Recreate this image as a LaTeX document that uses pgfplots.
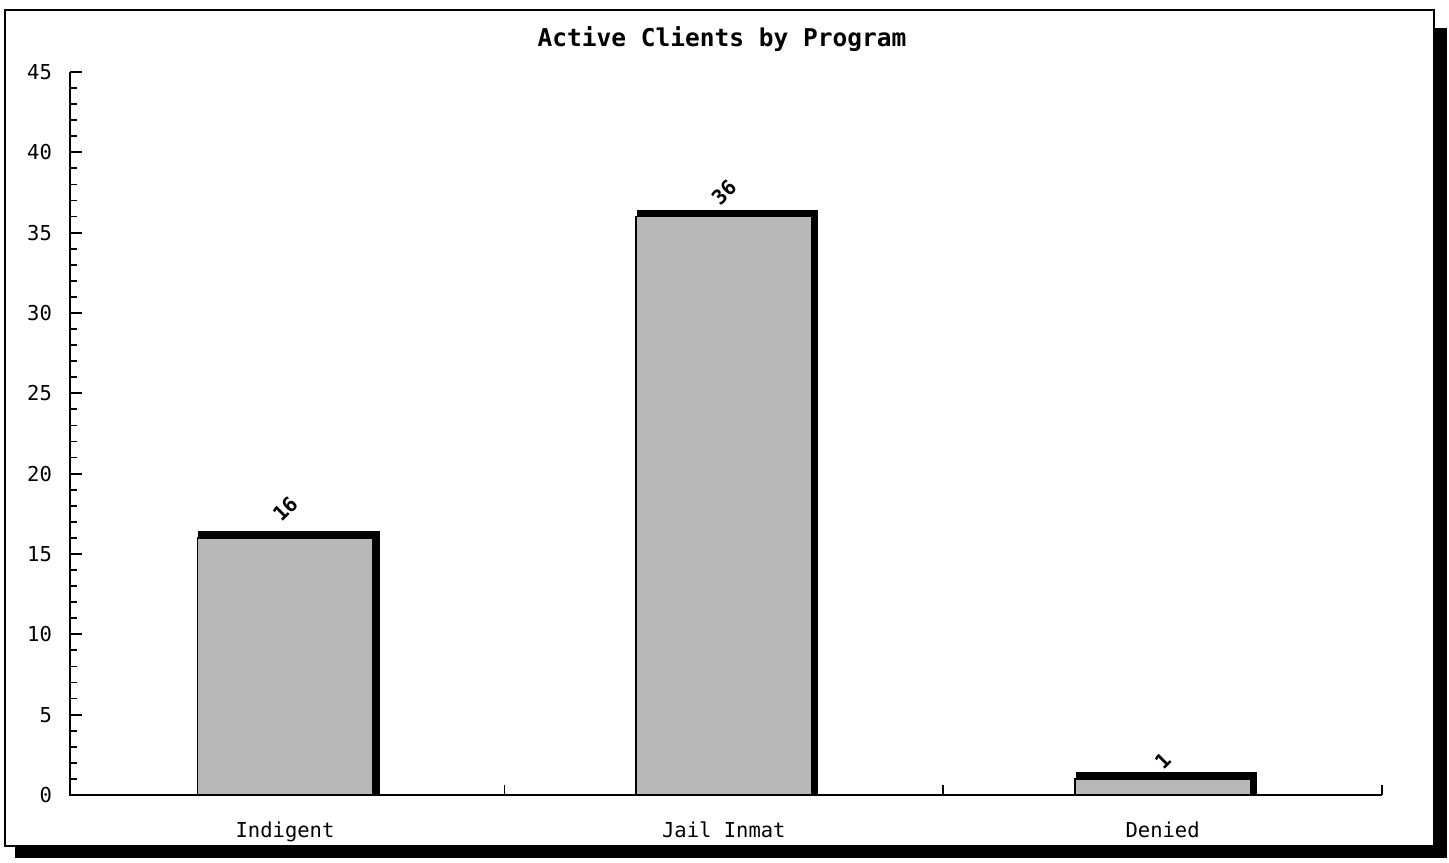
\documentclass[border=0pt]{standalone}
\usepackage{fontspec}
\setmainfont{DejaVu Sans Mono}
\usepackage{pgfplots}
\usepackage{pgfplotstable}
\pgfplotsset{compat=1.18}
\definecolor{barfill}{RGB}{184,184,184}

\pgfplotstableread{
x v off
0 16 14.5
1 36 12
2 1  9
}\datatable

\begin{document}
\begin{tikzpicture}[x=0.5bp,y=0.5bp]
\path[use as bounding box] (0,0) rectangle (1449,862);
% outer frame with shadow
\fill[black] (1434,834) rectangle (1447,4);
\fill[black] (15,16) rectangle (1447,4);
\draw[line width=1.1bp, fill=white] (5,852) rectangle (1434,16);
\node[font=\fontsize{12.3}{14}\selectfont\bfseries] at (722,823) {Active Clients by Program};
\begin{axis}[
  ybar, bar width=0.4,
  at={(35bp,33.5bp)}, anchor=south west,
  scale only axis, width=656bp, height=361.5bp,
  xmin=-0.49, xmax=2.5, ymin=0, ymax=45,
  axis line style={draw=none},
  xtick pos=left, ytick pos=left,
  tick align=inside,
  every tick/.style={black, line width=0.9bp},
  major tick length=6bp, minor tick length=3.3bp,
  ytick={0,5,...,45}, minor y tick num=4,
  xtick={0,1,2},
  xticklabels={Indigent,Jail Inmat,Denied},
  xtick style={draw=none},
  /pgf/number format/assume math mode=true,
  yticklabel style={font=\fontsize{10.3}{12}\selectfont, xshift=-5.5bp},
  xticklabel style={font=\fontsize{10.3}{12}\selectfont, yshift=-10bp},
  clip=false,
]
\draw[line width=1bp] (rel axis cs:0,1) -- (rel axis cs:0,0) -- (rel axis cs:1,0);
\draw[line width=0.9bp] (axis cs:0.5,0) -- ([yshift=5bp]axis cs:0.5,0);
\draw[line width=0.9bp] (axis cs:1.5,0) -- ([yshift=5bp]axis cs:1.5,0);
\draw[line width=0.9bp] (axis cs:2.5,0) -- ([yshift=5bp]axis cs:2.5,0);
% shadow / depth of bars
\addplot[fill=black, draw=black, line width=2.8bp, bar shift=0pt, xshift=2bp, yshift=2bp]
  table[x=x, y=v] {\datatable};
% bars
\addplot[fill=barfill, draw=black, line width=0.7bp, bar shift=0pt,
  nodes near coords,
  visualization depends on={\thisrow{off} \as \myoff},
  every node near coord/.append style={yshift=\myoff bp, rotate=45, anchor=center,
    font=\fontsize{10.3}{12}\selectfont\bfseries, text=black}]
  table[x=x, y=v] {\datatable};
\end{axis}
\end{tikzpicture}
\end{document}
